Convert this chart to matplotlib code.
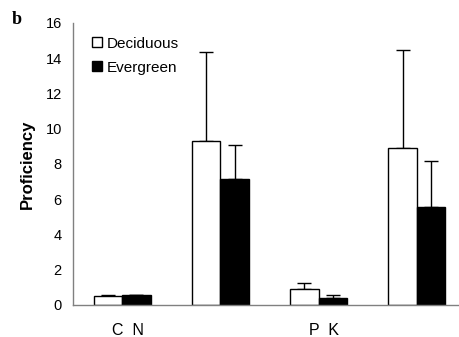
import matplotlib.pyplot as plt
import numpy as np

plt.rcParams['font.family'] = ['Liberation Sans', 'DejaVu Sans']

# Data
groups = [0, 1, 2, 3]
tick_labels = ['C  N', 'P  K']
deciduous = [0.49, 9.28, 0.93, 8.9]
deciduous_err = [0.08, 5.09, 0.30, 5.55]
evergreen = [0.57, 7.12, 0.42, 5.53]
evergreen_err = [0.02, 1.95, 0.15, 2.61]

fig = plt.figure(figsize=(4.59, 3.37), dpi=100)
ax = fig.add_axes([0.159, 0.095, 0.856, 0.837])

x = np.array(groups)
w = 0.29
ax.bar(x - w / 2, deciduous, w, color='white', edgecolor='black', linewidth=1.0,
       label='Deciduous', zorder=2)
ax.bar(x + w / 2, evergreen, w, color='black', edgecolor='black', linewidth=1.0,
       label='Evergreen', zorder=2)
ax.errorbar(x - w / 2, deciduous, yerr=[np.zeros(4), deciduous_err], fmt='none',
            ecolor='black', elinewidth=1.0, capsize=5, capthick=1.0, zorder=1)
ax.errorbar(x + w / 2, evergreen, yerr=[np.zeros(4), evergreen_err], fmt='none',
            ecolor='black', elinewidth=1.0, capsize=5, capthick=1.0, zorder=1)

ax.set_xlim(-0.5, 3.5)
ax.set_ylim(0, 16)
ax.set_yticks(range(0, 17, 2))
ax.set_xticks([0.06, 2.06])
ax.set_xticklabels(tick_labels)
ax.tick_params(axis='x', length=0, pad=13, labelsize=11.5)
ax.tick_params(axis='y', length=0, pad=8, labelsize=10.5)

for side in ['top', 'right']:
    ax.spines[side].set_visible(False)
for side in ['left', 'bottom']:
    ax.spines[side].set_color('#808080')
    ax.spines[side].set_linewidth(1.0)

ax.set_ylabel('Proficiency', fontsize=12, fontweight='bold', labelpad=8)

ax.legend(loc='upper left', bbox_to_anchor=(0.013, 1.0), frameon=False,
          fontsize=11, handlelength=0.65, handleheight=0.65, handletextpad=0.3,
          labelspacing=0.65)

fig.text(0.025, 0.93, 'b', family='Liberation Serif', fontweight='bold', fontsize=13)

fig.savefig('out.png', dpi=100)
